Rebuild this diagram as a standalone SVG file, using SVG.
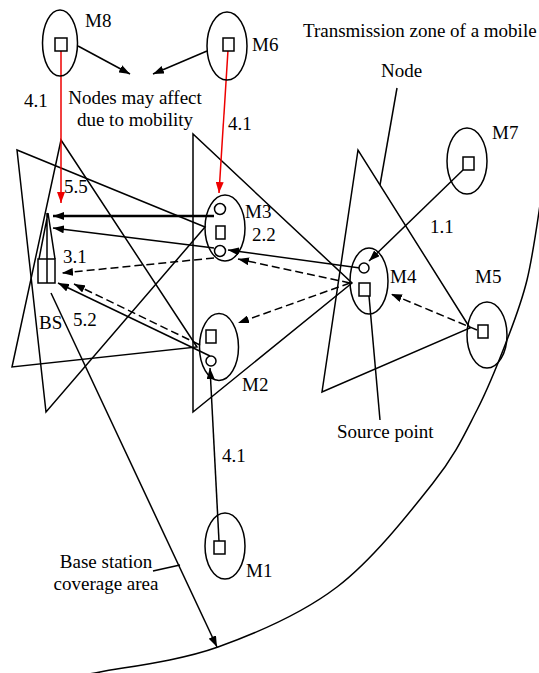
<svg xmlns="http://www.w3.org/2000/svg" width="539" height="673" viewBox="0 0 539 673">
<style>
.t{font-family:'Liberation Serif','DejaVu Serif',serif;font-size:19px;fill:#000}
.s{fill:none;stroke:#000;stroke-width:1.5}
.n{fill:#fff;stroke:#000;stroke-width:1.5}
.d{fill:none;stroke:#000;stroke-width:1.5;stroke-dasharray:8 4}
.r{fill:none;stroke:#e00;stroke-width:1.5}
</style>
<defs>
<marker id="a" markerUnits="userSpaceOnUse" markerWidth="11" markerHeight="8" refX="11" refY="4" orient="auto"><path d="M0,0 L11,4 L0,8 z" fill="#000"/></marker>
<marker id="ar" markerUnits="userSpaceOnUse" markerWidth="11" markerHeight="8" refX="11" refY="4" orient="auto"><path d="M0,0 L11,4 L0,8 z" fill="#e00"/></marker>
</defs>
<rect width="539" height="673" fill="#fff"/>
<g id="zones">
<path class="s" d="M540,205 C538.7,213.3 532.7,256.7 527,280 C521.3,303.3 515.3,318.3 507,340 C498.7,361.7 489.3,386.2 477,410 C464.7,433.8 456.3,453.5 433,483 C409.7,512.5 372.8,559.7 337,587 C301.2,614.3 257.5,632.8 218,647 C178.5,661.2 124.7,667.2 100,672 C75.3,676.8 75,675.3 70,676"/>
<polygon class="s" points="205,227 17,150 46,412"/>
<polygon class="s" points="197,347 61,140 12,367"/>
<polygon class="s" points="193,134 193,412 352,283"/>
<polygon class="s" points="358,150 322,392 470,328"/>
</g>
<g id="connectors">
<line class="s" x1="78" y1="46" x2="130" y2="74" marker-end="url(#a)"/>
<line class="s" x1="207" y1="51" x2="153" y2="74" marker-end="url(#a)"/>
<line class="r" x1="61" y1="50" x2="61" y2="203" marker-end="url(#ar)"/>
<line class="r" x1="228" y1="50" x2="219" y2="193" marker-end="url(#ar)"/>
<line x1="214" y1="216" x2="53" y2="216" stroke="#000" stroke-width="2.5" marker-end="url(#a)"/>
<line class="s" x1="214" y1="248" x2="53" y2="228" marker-end="url(#a)"/>
<line class="d" x1="214" y1="258" x2="62" y2="273" marker-end="url(#a)"/>
<line class="s" x1="210" y1="356" x2="58" y2="283" marker-end="url(#a)"/>
<line class="d" x1="200" y1="345" x2="74" y2="284" marker-end="url(#a)"/>
<line class="s" x1="360" y1="268" x2="228" y2="250" marker-end="url(#a)"/>
<line class="d" x1="350" y1="283" x2="238" y2="259" marker-end="url(#a)"/>
<line class="d" x1="350" y1="283" x2="238" y2="323" marker-end="url(#a)"/>
<line class="s" x1="463" y1="170" x2="369" y2="261" marker-end="url(#a)"/>
<line class="d" x1="477" y1="330" x2="391" y2="294" marker-end="url(#a)"/>
<line class="s" x1="219" y1="541" x2="210" y2="368" marker-end="url(#a)"/>
<line class="s" x1="51" y1="293" x2="217" y2="647" marker-end="url(#a)"/>
<line class="s" x1="153" y1="571" x2="180" y2="565"/>
<line class="s" x1="397" y1="88" x2="380" y2="185"/>
<line class="s" x1="369" y1="296" x2="380" y2="420"/>
</g>
<g id="BS">
<path class="s" d="M48,213 L39,259 M48,213 L55,259 M47,213 L47,283"/>
<rect class="s" x="38" y="259" width="17" height="24"/>
<text class="t" x="39" y="329" font-family="Liberation Serif">BS</text>
</g>
<g id="M8">
<ellipse class="s" cx="60" cy="43" rx="17.5" ry="33"/>
<rect class="n" x="55" y="38" width="12" height="13"/>
<text class="t" x="85" y="27" font-family="Liberation Serif">M8</text>
</g>
<g id="M6">
<ellipse class="s" cx="227" cy="46" rx="20" ry="34"/>
<rect class="n" x="223" y="38" width="11" height="13"/>
<text class="t" x="252" y="51" font-family="Liberation Serif">M6</text>
</g>
<g id="M7">
<ellipse class="s" cx="467" cy="161" rx="20" ry="33"/>
<rect class="n" x="463" y="157" width="11" height="13"/>
<text class="t" x="492" y="139" font-family="Liberation Serif">M7</text>
</g>
<g id="M3">
<ellipse class="s" cx="225" cy="228" rx="20" ry="33"/>
<circle class="n" cx="220" cy="209" r="5.5"/>
<rect class="n" x="216" y="226" width="9" height="13"/>
<circle class="n" cx="220" cy="251" r="5.5"/>
<text class="t" x="245" y="218" font-family="Liberation Serif">M3</text>
</g>
<g id="M4">
<ellipse class="s" cx="369" cy="281" rx="19" ry="33"/>
<circle class="n" cx="364" cy="268" r="5"/>
<rect class="n" x="359" y="283" width="11" height="13"/>
<text class="t" x="390" y="283" font-family="Liberation Serif">M4</text>
</g>
<g id="M5">
<ellipse class="s" cx="487" cy="335" rx="20" ry="33"/>
<rect class="n" x="478" y="325" width="10" height="13"/>
<text class="t" x="475" y="283" font-family="Liberation Serif">M5</text>
</g>
<g id="M2">
<ellipse class="s" cx="219" cy="347" rx="19.5" ry="33.5"/>
<rect class="n" x="206" y="330" width="10" height="13"/>
<circle class="n" cx="211" cy="361" r="5"/>
<text class="t" x="242" y="391" font-family="Liberation Serif">M2</text>
</g>
<g id="M1">
<ellipse class="s" cx="225" cy="546" rx="20" ry="33"/>
<rect class="n" x="214" y="541" width="11" height="13"/>
<text class="t" x="246" y="577" font-family="Liberation Serif">M1</text>
</g>
<g id="labels" font-family="Liberation Serif">
<text class="t" x="303" y="37">Transmission zone of a mobile</text>
<text class="t" x="381" y="77">Node</text>
<text class="t" x="135" y="104" text-anchor="middle">Nodes may affect</text>
<text class="t" x="135" y="126" text-anchor="middle">due to mobility</text>
<text class="t" x="24" y="107">4.1</text>
<text class="t" x="228" y="130">4.1</text>
<text class="t" x="64" y="193">5.5</text>
<text class="t" x="63" y="263">3.1</text>
<text class="t" x="252" y="241">2.2</text>
<text class="t" x="430" y="233">1.1</text>
<text class="t" x="73" y="326">5.2</text>
<text class="t" x="222" y="462">4.1</text>
<text class="t" x="337" y="438">Source point</text>
<text class="t" x="106" y="568" text-anchor="middle">Base station</text>
<text class="t" x="106" y="590" text-anchor="middle">coverage area</text>
</g>
</svg>
